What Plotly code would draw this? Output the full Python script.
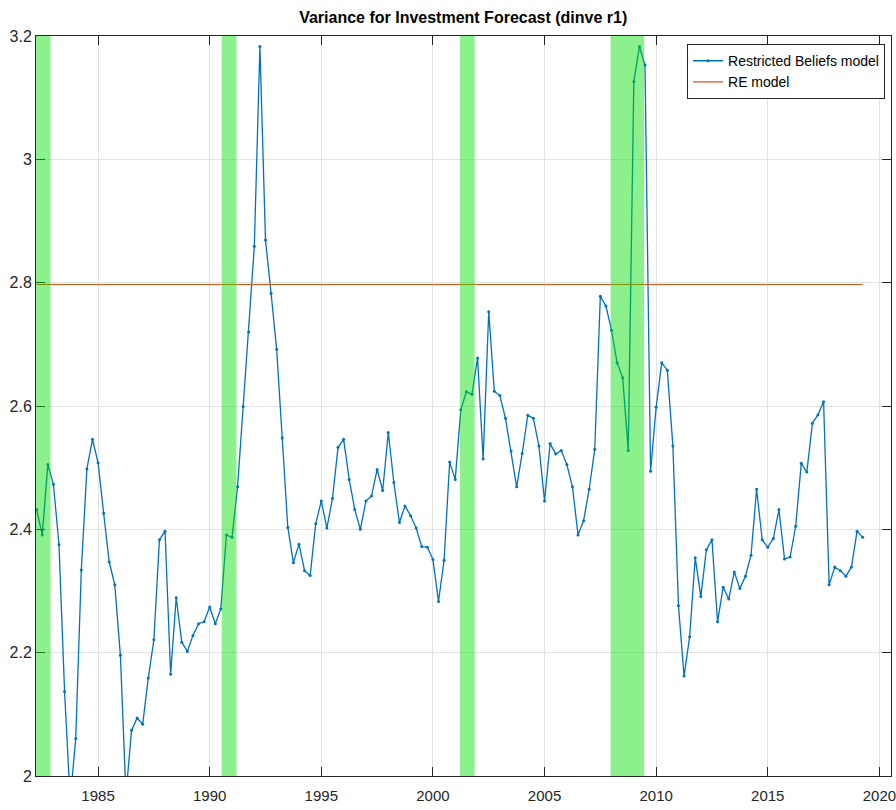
import plotly.graph_objects as go

# ---------------- data ----------------
start_year = 1982.25
rb_values = [
    2.432, 2.391, 2.505, 2.473, 2.375, 2.137, 1.960, 2.061,   # 1982.25 - 1984.0
    2.334, 2.498, 2.546, 2.508, 2.426, 2.347, 2.310, 2.196,   # 1984.25 - 1986.0
    1.970, 2.074, 2.094, 2.084, 2.159, 2.221, 2.383, 2.397,   # 1986.25 - 1988.0
    2.165, 2.289, 2.217, 2.202, 2.228, 2.247, 2.250, 2.274,   # 1988.25 - 1990.0
    2.247, 2.271, 2.391, 2.387, 2.469, 2.599, 2.720, 2.859,   # 1990.25 - 1992.0
    3.183, 2.869, 2.783, 2.692, 2.548, 2.403, 2.346, 2.376,   # 1992.25 - 1994.0
    2.333, 2.325, 2.409, 2.446, 2.402, 2.450, 2.533, 2.546,   # 1994.25 - 1996.0
    2.481, 2.432, 2.400, 2.446, 2.454, 2.497, 2.463, 2.557,   # 1996.25 - 1998.0
    2.476, 2.411, 2.438, 2.422, 2.402, 2.372, 2.371, 2.351,   # 1998.25 - 2000.0
    2.283, 2.350, 2.509, 2.481, 2.594, 2.623, 2.619, 2.678,   # 2000.25 - 2002.0
    2.514, 2.753, 2.624, 2.617, 2.580, 2.527, 2.469, 2.523,   # 2002.25 - 2004.0
    2.585, 2.580, 2.535, 2.446, 2.539, 2.522, 2.528, 2.505,   # 2004.25 - 2006.0
    2.469, 2.391, 2.414, 2.465, 2.530, 2.778, 2.762, 2.723,   # 2006.25 - 2008.0
    2.670, 2.646, 2.528, 3.126, 3.183, 3.153, 2.494, 2.598,   # 2008.25 - 2010.0
    2.670, 2.658, 2.535, 2.276, 2.162, 2.226, 2.354, 2.291,   # 2010.25 - 2012.0
    2.367, 2.383, 2.250, 2.306, 2.287, 2.331, 2.304, 2.324,   # 2012.25 - 2014.0
    2.358, 2.465, 2.383, 2.371, 2.385, 2.432, 2.352, 2.355,   # 2014.25 - 2016.0
    2.405, 2.507, 2.493, 2.572, 2.586, 2.607, 2.310, 2.339,   # 2016.25 - 2018.0
    2.333, 2.324, 2.339, 2.397, 2.387,                        # 2018.25 - 2019.25
]
dates = [start_year + 0.25 * i for i in range(len(rb_values))]
re_level = 2.797
re_values = [re_level for _ in dates]

recession_start = [1981.50, 1990.54, 2001.21, 2007.96]
recession_end = [1982.87, 1991.20, 2001.87, 2009.46]

x_ticks = [1985, 1990, 1995, 2000, 2005, 2010, 2015, 2020]
y_ticks = [2.0, 2.2, 2.4, 2.6, 2.8, 3.0, 3.2]
y_ticklabels = ["2", "2.2", "2.4", "2.6", "2.8", "3", "3.2"]

title_text = "Variance for Investment Forecast (dinve r1)"
series_names = ["Restricted Beliefs model", "RE model"]

# ---------------- figure ----------------
FONT = "Liberation Sans Narrow, Arial Narrow, Liberation Sans, Arial, sans-serif"

fig = go.Figure()
fig.add_trace(go.Scatter(
    x=dates, y=rb_values, mode="lines+markers", name=series_names[0],
    line=dict(color="#0072BD", width=1.3),
    marker=dict(color="#0072BD", size=3, symbol="circle"),
))
fig.add_trace(go.Scatter(
    x=dates, y=re_values, mode="lines", name=series_names[1],
    line=dict(color="#D95319", width=1.2),
))

for s, e in zip(recession_start, recession_end):
    fig.add_shape(type="rect", xref="x", yref="paper", x0=s, x1=e, y0=0, y1=1,
                  fillcolor="rgba(0,222,0,0.45)", line=dict(width=0), layer="above")

axis_common = dict(
    showline=True, linecolor="#262626", linewidth=1, mirror="allticks",
    ticks="inside", ticklen=9, tickcolor="#262626", tickwidth=1,
    showgrid=True, gridcolor="#e3e3e3", gridwidth=1,
    zeroline=False, automargin=False,
    ticklabeloverflow="allow",
)

fig.update_xaxes(range=[1982.22, 2020.52], tickvals=x_ticks, ticklabelstandoff=6,
                 tickfont=dict(family=FONT, size=15, color="#262626"),
                 **axis_common)
fig.update_yaxes(range=[2.0, 3.2], tickvals=y_ticks, ticktext=y_ticklabels,
                 tickfont=dict(family=FONT, size=16, color="#262626"),
                 **axis_common)

fig.update_layout(
    width=896, height=810,
    margin=dict(l=36, r=5, t=36, b=34, autoexpand=False),
    paper_bgcolor="white", plot_bgcolor="white",
    title=dict(text="<b>" + title_text + "</b>", x=0.517, xanchor="center",
               y=1 - 17 / 810, yanchor="middle", yref="container",
               font=dict(family=FONT, size=16, color="black")),
    legend=dict(x=0.993, y=0.989, xanchor="right", yanchor="top",
                bgcolor="white", bordercolor="#262626", borderwidth=1,
                font=dict(family=FONT, size=14, color="black"),
                tracegroupgap=2),
    showlegend=True,
)

fig.write_html("out.html")
